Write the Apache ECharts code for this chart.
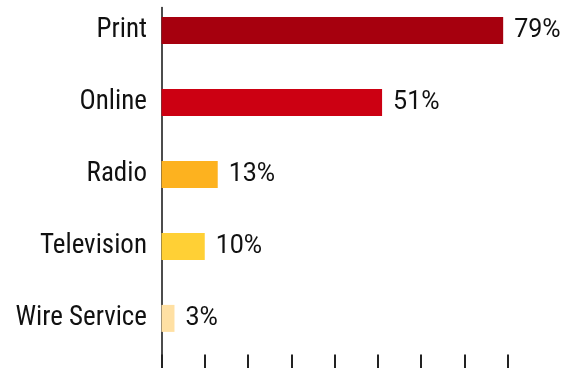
<!DOCTYPE html>
<html>
<head>
<meta charset="utf-8">
<script src="https://cdn.jsdelivr.net/npm/echarts@6/dist/echarts.min.js"></script>
<style>
  html, body { margin: 0; padding: 0; background: #fff; }
  #chart { width: 568px; height: 368px; }
</style>
</head>
<body>
<div id="chart"></div>
<script>
// News sources, top to bottom
const categories = ['Print', 'Online', 'Radio', 'Television', 'Wire Service'];
const shares = [79, 51, 13, 10, 3];
const barColors = ['#a6000e', '#cc0012', '#fdb21f', '#ffd035', '#ffe0a3'];
const tickValues = [10, 20, 30, 40, 50, 60, 70, 80];

const labelFont = '"Roboto Condensed", "Liberation Sans", sans-serif';
const valueFont = 'Roboto, "Liberation Sans", sans-serif';

const chart = echarts.init(document.getElementById('chart'), null, { renderer: 'canvas' });

chart.setOption({
  animation: false,
  grid: [
    // bars: the band area starts slightly above the top edge
    { left: 161.5, right: 60.5, bottom: 13.6, height: 360, outerBoundsMode: 'none', containLabel: false },
    // vertical baseline running down to the bottom edge
    { left: 161.5, right: 60.5, top: 7.5, bottom: 0, outerBoundsMode: 'none', containLabel: false }
  ],
  xAxis: [
    {
      gridIndex: 0,
      type: 'value',
      min: 0,
      max: tickValues[tickValues.length - 1],
      interval: tickValues[1] - tickValues[0],
      splitLine: { show: false },
      axisLine: { show: false },
      axisLabel: { show: false },
      axisTick: { show: true, length: 16, lineStyle: { color: '#222', width: 2 } }
    },
    {
      gridIndex: 1,
      type: 'value',
      min: 0,
      max: 80,
      show: false
    }
  ],
  yAxis: [
    {
      gridIndex: 0,
      type: 'category',
      data: categories,
      inverse: true,
      axisLine: { show: false },
      axisTick: { show: false },
      splitLine: { show: false },
      axisLabel: {
        margin: 14.5,
        color: '#111',
        fontFamily: labelFont,
        fontSize: 27
      }
    },
    {
      gridIndex: 1,
      type: 'value',
      min: 0,
      max: 1,
      axisLine: { show: true, lineStyle: { color: '#111', width: 1.5 } },
      axisTick: { show: false },
      axisLabel: { show: false },
      splitLine: { show: false }
    }
  ],
  series: [
    {
      type: 'bar',
      xAxisIndex: 0,
      yAxisIndex: 0,
      barWidth: 27,
      data: shares.map((v, i) => ({ value: v, itemStyle: { color: barColors[i] } })),
      label: {
        show: true,
        position: 'right',
        distance: 11,
        color: '#111',
        fontFamily: valueFont,
        fontSize: 25,
        formatter: p => p.value + '%'
      }
    }
  ]
});
</script>
</body>
</html>
